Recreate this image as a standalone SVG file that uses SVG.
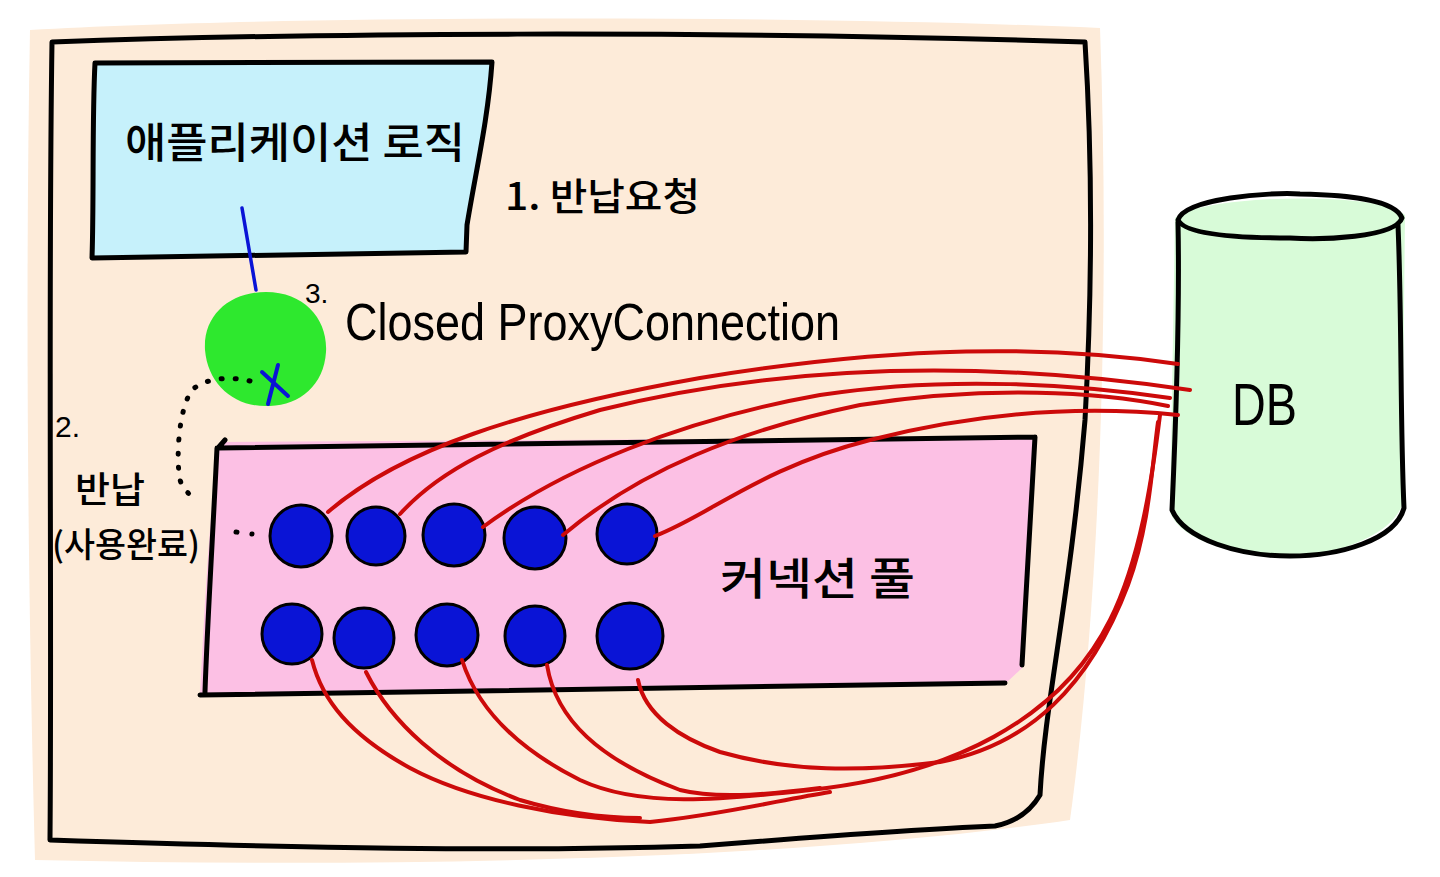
<svg xmlns="http://www.w3.org/2000/svg" width="1440" height="877" viewBox="0 0 1440 877">
<style>
.ink{fill:none;stroke:#000;stroke-width:5;stroke-linecap:round;stroke-linejoin:round}
.red{fill:none;stroke:#cc0a0a;stroke-width:4;stroke-linecap:round;stroke-linejoin:round}
.dot{fill:#0a14d6;stroke:#000;stroke-width:3}
.ko{font-family:"Noto Sans CJK KR","Noto Sans",sans-serif;font-weight:500;fill:#000}
.en{font-family:"Liberation Sans","DejaVu Sans",sans-serif;fill:#000}
</style>
<rect width="1440" height="877" fill="#fff"/>

<g id="server">
<path d="M30,30 C300,15 800,15 1100,28 C1110,300 1100,600 1070,820 C800,860 400,868 35,860 C28,600 25,300 30,30 Z" fill="#fdebd9"/>
<path class="ink" d="M52,42 C300,33 700,30 1085,42 C1095,200 1090,330 1085,420 C1070,600 1045,700 1040,795 C1030,812 1015,822 995,826 C900,830 800,838 700,846 C500,852 300,848 50,840 C52,600 48,300 52,42 Z"/>
</g>

<g id="app-logic">
<path d="M95,63 L492,62 C488,120 470,200 466,252 L92,258 C94,200 92,120 95,63 Z" fill="#c6f1fb"/>
<path class="ink" d="M95,63 L492,62 C488,120 476,170 467,225 L466,252 L92,258 C94,200 92,120 95,63"/>
<text class="ko" x="125" y="158" font-size="42" textLength="340" lengthAdjust="spacingAndGlyphs">애플리케이션   로직</text>
</g>

<text class="ko" x="505" y="210" font-size="38" textLength="195" lengthAdjust="spacingAndGlyphs">1. 반납요청</text>

<g id="proxy">
<path d="M266,292 C305,292 328,320 326,352 C324,385 300,405 270,406 C235,408 208,385 205,350 C203,315 230,292 266,292 Z" fill="#2ee82e"/>
<path d="M262,372 L288,396 M278,365 L268,404" fill="none" stroke="#0a14d6" stroke-width="4" stroke-linecap="round"/>
</g>
<text class="en" x="305" y="303" font-size="28">3.</text>
<text class="en" x="345" y="340" font-size="52" textLength="495" lengthAdjust="spacingAndGlyphs">Closed ProxyConnection</text>

<g id="pool">
<path d="M220,442 L1035,437 L1022,668 L1005,684 L200,695 C205,600 210,500 220,442 Z" fill="#fcc0e4"/>
<path class="ink" d="M225,440 L218,448 L1035,437 M1035,437 C1030,520 1025,600 1022,665 M1005,683 L200,695 M217,448 C212,550 207,630 205,692"/>
<text class="ko" x="720" y="595" font-size="44" textLength="195" lengthAdjust="spacingAndGlyphs">커넥션 풀</text>
<circle class="dot" cx="301" cy="536" r="31"/>
<circle class="dot" cx="376" cy="536" r="29"/>
<circle class="dot" cx="454" cy="535" r="31"/>
<circle class="dot" cx="535" cy="538" r="31"/>
<circle class="dot" cx="627" cy="534" r="30"/>
<circle class="dot" cx="292" cy="634" r="30"/>
<circle class="dot" cx="364" cy="638" r="30"/>
<circle class="dot" cx="447" cy="635" r="31"/>
<circle class="dot" cx="535" cy="636" r="30"/>
<circle class="dot" cx="630" cy="636" r="33"/>
</g>

<g id="db">
<path d="M1175,218 C1200,195 1380,190 1405,215 L1402,505 C1390,540 1320,558 1290,556 C1230,555 1180,540 1170,512 Z" fill="#d8fbd8"/>
<path class="ink" d="M1178,220 C1185,198 1270,192 1300,194 C1350,195 1395,200 1402,218 C1395,238 1320,240 1290,238 C1240,238 1185,235 1178,220 Z"/>
<path class="ink" d="M1178,222 C1180,320 1176,420 1172,510 C1185,540 1240,556 1290,556 C1340,556 1395,540 1404,508 C1400,420 1402,320 1398,225"/>
<text class="en" x="1232" y="425" font-size="60" textLength="65" lengthAdjust="spacingAndGlyphs">DB</text>
</g>

<text class="en" x="55" y="437" font-size="30">2.</text>
<text class="ko" x="75" y="503" font-size="36" textLength="70" lengthAdjust="spacingAndGlyphs">반납</text>
<text class="ko" x="52" y="557" font-size="34" textLength="148" lengthAdjust="spacingAndGlyphs">(사용완료)</text>

<g id="connectors">
<path d="M242,208 L256,290" fill="none" stroke="#0a14d6" stroke-width="3.5" stroke-linecap="round"/>
<path d="M250,381 C230,376 205,378 192,390 C178,410 176,460 180,480 C184,492 192,497 197,497" fill="none" stroke="#000" stroke-width="5" stroke-linecap="round" stroke-dasharray="1 13"/>
<path d="M236,532 L252,534" fill="none" stroke="#000" stroke-width="5" stroke-linecap="round" stroke-dasharray="1 15"/>

<path class="red" d="M328,512 C400,450 520,410 700,378 C900,345 1050,345 1178,364"/>
<path class="red" d="M400,514 C440,470 500,440 600,410 C800,360 1000,362 1190,390"/>
<path class="red" d="M483,527 C560,470 680,420 820,395 C950,375 1080,385 1170,398"/>
<path class="red" d="M563,535 C640,470 740,430 860,405 C990,385 1100,392 1168,406"/>
<path class="red" d="M655,536 C710,515 760,468 870,440 C980,412 1080,405 1178,415"/>

<path class="red" d="M312,660 C322,700 350,735 410,768 C470,800 560,818 650,822 C720,815 780,800 830,792"/>
<path class="red" d="M366,672 C390,720 440,770 520,800 C560,812 600,818 640,818"/>
<path class="red" d="M462,660 C478,710 520,750 580,780 C640,808 720,800 810,790 C950,775 1060,720 1110,620 C1140,560 1152,480 1160,415"/>
<path class="red" d="M547,665 C556,720 600,760 680,790 C720,800 780,793 820,788"/>
<path class="red" d="M638,680 C645,715 680,738 720,752 C790,772 860,772 940,762 C1030,745 1090,685 1128,585 C1150,525 1152,465 1158,422"/>
</g>
</svg>
